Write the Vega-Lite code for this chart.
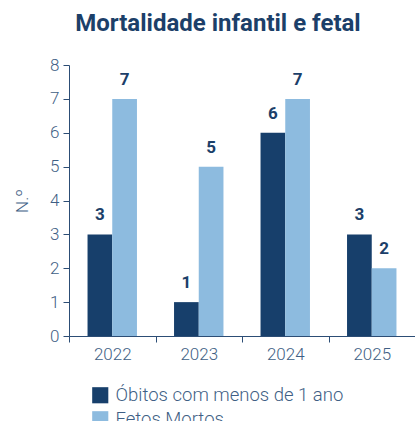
{
  "$schema": "https://vega.github.io/schema/vega-lite/v6.json",
  "autosize": "none",
  "width": 346,
  "height": 271,
  "padding": {"left": 69, "top": 65, "right": 0, "bottom": 85},
  "background": "white",
  "config": {"font": "Roboto", "view": {"stroke": null}},
  "title": {"text": "Mortalidade infantil e fetal", "fontSize": 24, "fontWeight": "bold", "color": "#1c3f69", "anchor": "middle", "dx": -24, "offset": 20, "font": "Roboto"},
  "data": {"values": [
    {"ano": "2022", "serie": "Óbitos com menos de 1 ano", "valor": 3},
    {"ano": "2022", "serie": "Fetos Mortos", "valor": 7},
    {"ano": "2023", "serie": "Óbitos com menos de 1 ano", "valor": 1},
    {"ano": "2023", "serie": "Fetos Mortos", "valor": 5},
    {"ano": "2024", "serie": "Óbitos com menos de 1 ano", "valor": 6},
    {"ano": "2024", "serie": "Fetos Mortos", "valor": 7},
    {"ano": "2025", "serie": "Óbitos com menos de 1 ano", "valor": 3},
    {"ano": "2025", "serie": "Fetos Mortos", "valor": 2}
  ]},
  "encoding": {
    "x": {"field": "ano", "type": "nominal", "scale": {"paddingInner": 0, "paddingOuter": 0},
      "axis": {"title": null, "labelAngle": 0, "tickBand": "extent", "labelFontSize": 17, "labelFontWeight": 300, "labelColor": "#3f5f85", "domainColor": "#2c4d75", "tickColor": "#2c4d75", "tickSize": 6, "labelPadding": 4, "grid": false}},
    "xOffset": {"field": "serie", "type": "nominal", "sort": ["Óbitos com menos de 1 ano", "Fetos Mortos"], "scale": {"paddingInner": 0, "paddingOuter": 0.75}},
    "y": {"field": "valor", "type": "quantitative", "scale": {"domain": [0, 8]},
      "axis": {"title": "N.º", "titleFontSize": 17, "titleFontWeight": 300, "titleColor": "#3f5f85", "titlePadding": 18, "tickCount": 8, "grid": false, "labelFontSize": 17, "labelFontWeight": 300, "labelColor": "#3f5f85", "domainColor": "#2c4d75", "tickColor": "#2c4d75", "tickSize": 6, "labelPadding": 4}}
  },
  "layer": [
    {"mark": {"type": "bar"},
      "encoding": {"color": {"field": "serie", "type": "nominal", "sort": ["Óbitos com menos de 1 ano", "Fetos Mortos"],
        "scale": {"range": ["#173f6b", "#8dbbdf"]},
        "legend": {"title": null, "orient": "none", "legendX": 22, "legendY": 321, "direction": "vertical", "symbolType": "square", "symbolSize": 260, "symbolStrokeWidth": 0, "symbolOpacity": 1, "labelFontSize": 18.5, "labelFontWeight": 300, "labelLimit": 400, "labelColor": "#3f5f85", "rowPadding": 5, "labelOffset": 6}}}},
    {"mark": {"type": "text", "baseline": "bottom", "dy": -10, "fontSize": 17, "fontWeight": "bold", "color": "#1c3f69"},
      "encoding": {"text": {"field": "valor", "type": "quantitative"}}}
  ]
}
